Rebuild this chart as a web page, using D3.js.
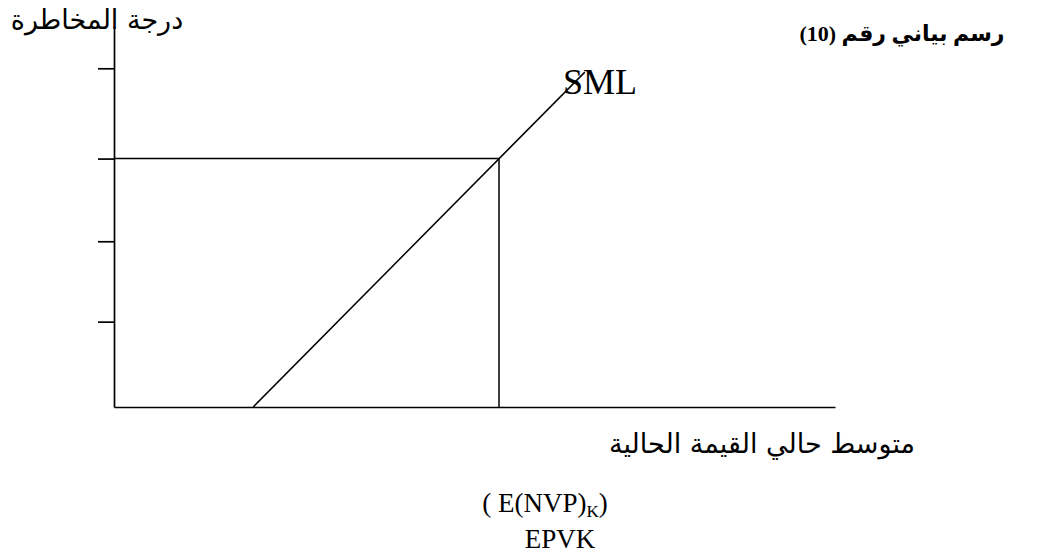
<!DOCTYPE html>
<html>
<head>
<meta charset="utf-8">
<script src="https://cdn.jsdelivr.net/npm/d3@7"></script>
<style>
  body { margin: 0; background: #fff; }
  svg { display: block; }
</style>
</head>
<body>
<div id="chart"></div>
<script>
// values (0-100 on both axes)
const riskTicks = [22.4, 43.5, 65.2, 88.9];
const smlLine = [{ x: 19.3, y: 0 }, { x: 65.3, y: 87.9 }];
const expectedPoint = { x: 53.4, y: 65.2 };

const titleText = "رسم بياني رقم (10)";
const yLabel = "درجة المخاطرة";
const xLabel = "متوسط حالي القيمة الحالية";
const lineLabel = "SML";

const width = 1040, height = 558;

const svg = d3.select("#chart")
    .append("svg")
    .attr("width", width)
    .attr("height", height);

const xScale = d3.scaleLinear()
    .domain([0, 100])
    .range([114, 835]);

const yScale = d3.scaleLinear()
    .domain([0, 100])
    .range([407, 26]);

// y axis with left ticks, no labels
svg.append("g")
    .attr("transform", `translate(${xScale(0)},0)`)
    .call(d3.axisLeft(yScale).tickValues(riskTicks).tickSize(16).tickSizeOuter(0).tickFormat(""));

svg.append("g")
    .attr("transform", `translate(0,${yScale(0)})`)
    .call(d3.axisBottom(xScale).tickValues([]).tickSizeOuter(0));

svg.selectAll(".domain, .tick line")
    .attr("stroke", "#000")
    .attr("stroke-width", 1.7);

// guide lines to the point on the SML
svg.append("path")
    .attr("d", d3.line()([
        [xScale(0), yScale(expectedPoint.y)],
        [xScale(expectedPoint.x), yScale(expectedPoint.y)],
        [xScale(expectedPoint.x), yScale(0)]
    ]))
    .attr("fill", "none")
    .attr("stroke", "#000")
    .attr("stroke-width", 1.5);

svg.append("path")
    .datum(smlLine)
    .attr("d", d3.line().x(d => xScale(d.x)).y(d => yScale(d.y)))
    .attr("fill", "none")
    .attr("stroke", "#000")
    .attr("stroke-width", 1.5);

svg.append("text")
    .attr("x", 563)
    .attr("y", 94)
    .style("font-family", "'Liberation Serif', serif")
    .style("font-size", "36px")
    .text(lineLabel);

// title
svg.append("text")
    .attr("x", 902)
    .attr("y", 41)
    .attr("direction", "rtl")
    .attr("text-anchor", "middle")
    .style("font-family", "'Liberation Serif', 'DejaVu Sans', serif")
    .style("font-weight", "bold")
    .style("font-size", "22px")
    .text(titleText);

svg.append("text")
    .attr("x", 97)
    .attr("y", 29)
    .attr("direction", "rtl")
    .attr("text-anchor", "middle")
    .style("font-family", "'DejaVu Sans', sans-serif")
    .style("font-size", "27px")
    .text(yLabel);

svg.append("text")
    .attr("x", 762)
    .attr("y", 453)
    .attr("direction", "rtl")
    .attr("text-anchor", "middle")
    .style("font-family", "'DejaVu Sans', sans-serif")
    .style("font-size", "27px")
    .text(xLabel);

const formula = svg.append("text")
    .attr("x", 545)
    .attr("y", 512)
    .attr("text-anchor", "middle")
    .style("font-family", "'Liberation Serif', serif")
    .style("font-size", "27px");
formula.append("tspan").text("( E(NVP)");
formula.append("tspan").attr("dy", 5).style("font-size", "17px").text("K");
formula.append("tspan").attr("dy", -5).text(")");

svg.append("text")
    .attr("x", 560)
    .attr("y", 548)
    .attr("text-anchor", "middle")
    .style("font-family", "'Liberation Serif', serif")
    .style("font-size", "27px")
    .text("EPVK");
</script>
</body>
</html>
